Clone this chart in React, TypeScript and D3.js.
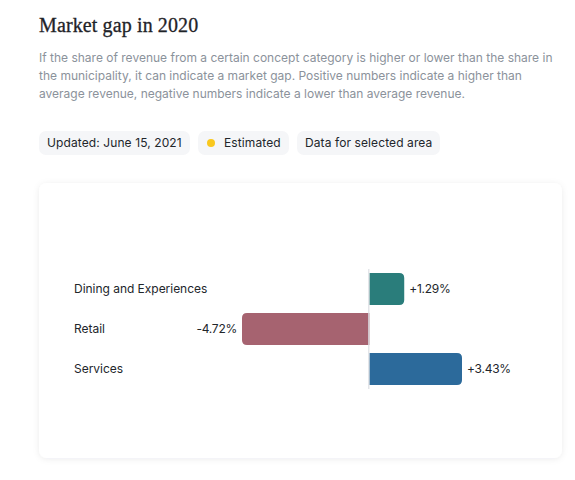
import { useEffect, useRef } from 'react'
import * as d3 from 'd3'

const categories = ['Dining and Experiences', 'Retail', 'Services']
const gaps = [1.29, -4.72, 3.43]
const barColors = ['#2a7d7b', '#a66370', '#2c6a9b']

const title = 'Market gap in 2020'
const descLines = [
  'If the share of revenue from a certain concept category is higher or lower than the share in',
  'the municipality, it can indicate a market gap. Positive numbers indicate a higher than',
  'average revenue, negative numbers indicate a lower than average revenue.',
]
const sans = 'Inter, "Noto Sans", sans-serif'

export default function App() {
  const svgRef = useRef<SVGSVGElement>(null)

  useEffect(() => {
    if (!svgRef.current) return
    const svg = d3.select(svgRef.current)
    svg.selectAll('*').remove()

    const defs = svg.append('defs')
    const shadow = defs.append('filter').attr('id', 'cardShadow')
      .attr('x', '-5%').attr('y', '-5%').attr('width', '110%').attr('height', '110%')
    shadow.append('feDropShadow')
      .attr('dx', 0).attr('dy', 1).attr('stdDeviation', 3)
      .attr('flood-color', '#1a2a3a').attr('flood-opacity', 0.08)

    // Header
    svg.append('text').attr('x', 39).attr('y', 32)
      .attr('font-family', '"Liberation Serif", serif').attr('font-size', 20)
      .attr('letter-spacing', 0.12).attr('stroke', '#1f2328').attr('stroke-width', 0.3)
      .attr('fill', '#1f2328').text(title)

    svg.selectAll('text.desc').data(descLines).join('text').attr('class', 'desc')
      .attr('x', 39).attr('y', (_, i) => 62 + i * 18)
      .attr('font-family', sans).attr('font-size', 12)
      .attr('fill', '#8b929b').text(d => d)

    // Pills
    const pills = [
      { x: 39, w: 151, tx: 47, label: 'Updated: June 15, 2021' },
      { x: 198, w: 91, tx: 224, label: 'Estimated' },
      { x: 297, w: 143, tx: 305, label: 'Data for selected area' },
    ]
    pills.forEach(p => {
      svg.append('rect').attr('x', p.x).attr('y', 131).attr('width', p.w).attr('height', 24)
        .attr('rx', 7).attr('fill', '#f5f6f8')
      svg.append('text').attr('x', p.tx).attr('y', 147)
        .attr('font-family', sans).attr('font-size', 12).attr('letter-spacing', 0.1)
        .attr('fill', '#22262b').text(p.label)
    })
    svg.append('circle').attr('cx', 211).attr('cy', 143).attr('r', 4).attr('fill', '#f9c81e')

    // Card
    svg.append('rect').attr('x', 39).attr('y', 183).attr('width', 523).attr('height', 275)
      .attr('rx', 8).attr('fill', '#fff').attr('filter', 'url(#cardShadow)')

    // Chart
    const x = d3.scaleLinear().domain([-4.72, 3.43]).range([242, 462])
    const y = d3.scaleBand().domain(categories).range([269, 389]).paddingInner(0.2).paddingOuter(0.1)
    const x0 = x(0)

    const barPath = (v: number, top: number, h: number) => {
      const end = x(v)
      const r = 5
      const s = v >= 0 ? 1 : -1
      const p = d3.path()
      p.moveTo(x0, top)
      p.lineTo(end - s * r, top)
      p.quadraticCurveTo(end, top, end, top + r)
      p.lineTo(end, top + h - r)
      p.quadraticCurveTo(end, top + h, end - s * r, top + h)
      p.lineTo(x0, top + h)
      p.closePath()
      return p.toString()
    }

    svg.selectAll('path.bar').data(categories).join('path').attr('class', 'bar')
      .attr('d', (c, i) => barPath(gaps[i], y(c)!, y.bandwidth()))
      .attr('fill', (_, i) => barColors[i])

    svg.append('line').attr('x1', x0 - 0.6).attr('x2', x0 - 0.6).attr('y1', 269).attr('y2', 389)
      .attr('stroke', '#dcdfe3').attr('stroke-width', 1.2)

    svg.selectAll('text.cat').data(categories).join('text').attr('class', 'cat')
      .attr('x', 74).attr('y', c => y(c)! + y.bandwidth() / 2)
      .attr('dy', '0.35em').attr('font-family', sans).attr('font-size', 12).attr('letter-spacing', -0.03)
      .attr('fill', '#22262b').text(c => c)

    svg.selectAll('text.val').data(categories).join('text').attr('class', 'val')
      .attr('x', (_, i) => x(gaps[i]) + (gaps[i] >= 0 ? 5 : -5))
      .attr('y', c => y(c)! + y.bandwidth() / 2)
      .attr('dy', '0.35em').attr('text-anchor', (_, i) => gaps[i] >= 0 ? 'start' : 'end')
      .attr('font-family', sans).attr('font-size', 12).attr('letter-spacing', -0.25)
      .attr('fill', '#22262b')
      .text((_, i) => `${gaps[i] >= 0 ? '+' : ''}${gaps[i].toFixed(2)}%`)
  }, [])

  return (
    <svg ref={svgRef} width={575} height={480}
      style={{ position: 'absolute', left: 0, top: 0, background: '#fff' }} />
  )
}
